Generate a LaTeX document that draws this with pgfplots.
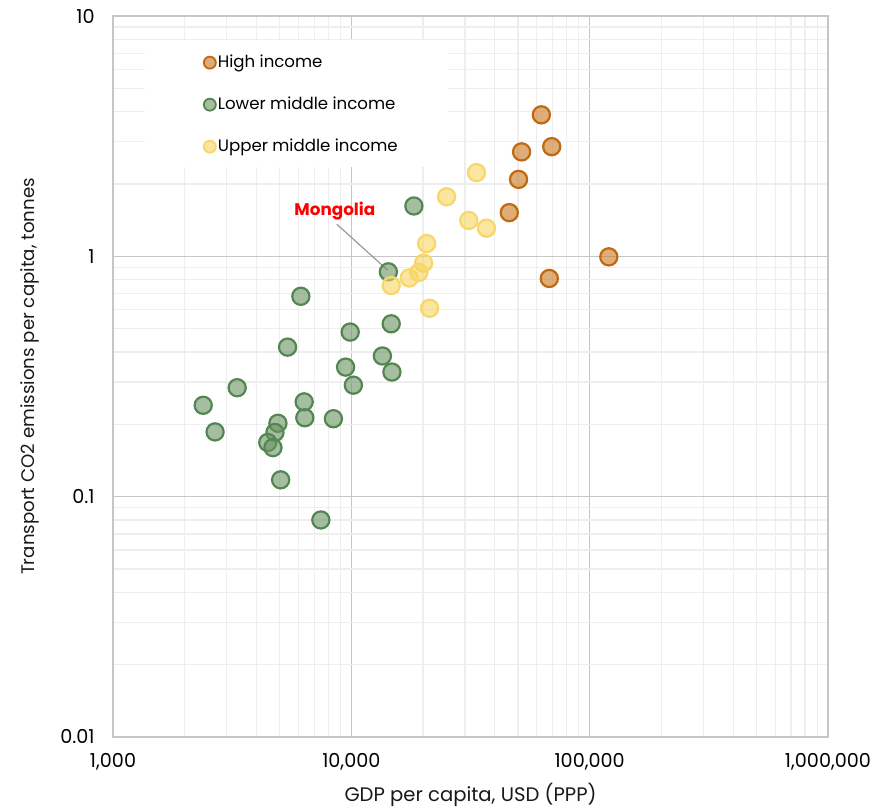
\documentclass[border=0pt]{standalone}
\usepackage{fontspec}
\setmainfont{Poppins}
\usepackage{pgfplots}
\pgfplotsset{compat=1.18}

\definecolor{hiFill}{RGB}{200,118,30}
\definecolor{hiDraw}{RGB}{192,105,16}
\definecolor{loFill}{RGB}{105,147,97}
\definecolor{loDraw}{RGB}{84,134,84}
\definecolor{upFill}{RGB}{248,213,97}
\definecolor{upDraw}{RGB}{247,215,105}

\begin{document}
\begin{tikzpicture}
\begin{axis}[
  name=ax,
  scale only axis,
  width=357.5pt, height=360.5pt,
  xmode=log, ymode=log,
  xmin=1000, xmax=1000000,
  ymin=0.01, ymax=10,
  xtick={1000,10000,100000,1000000},
  xticklabels={{1,000},{10,000},{100,000},{1,000,000}},
  ytick={0.01,0.1,1,10},
  yticklabels={0.01,0.1,1,10},
  minor xtick={2000,3000,4000,5000,6000,7000,8000,9000,
    20000,30000,40000,50000,60000,70000,80000,90000,
    200000,300000,400000,500000,600000,700000,800000,900000},
  minor ytick={0.02,0.03,0.04,0.05,0.06,0.07,0.08,0.09,
    0.2,0.3,0.4,0.5,0.6,0.7,0.8,0.9,
    2,3,4,5,6,7,8,9},
  grid=both,
  major grid style={draw=gray!45, line width=0.6pt},
  minor grid style={draw=gray!13, line width=0.6pt},
  axis line style={draw=gray!45, line width=0.6pt},
  tick style={draw=none},
  tick label style={font=\fontsize{9.6}{11}\selectfont, text=black},
  xticklabel style={anchor=center, yshift=-12.5pt},
  yticklabel style={anchor=east, inner sep=0pt, xshift=-9pt},
  every axis x label/.style={at={(rel axis cs:0.5,0)}, anchor=center, yshift=-29pt},
  every axis y label/.style={at={(rel axis cs:0,0.5)}, anchor=center, rotate=90, yshift=41.5pt},
  label style={text=black!90},
  xlabel style={font=\fontsize{9.8}{11}\selectfont},
  ylabel style={font=\fontsize{9.1}{11}\selectfont},
  xlabel={GDP per capita, USD (PPP)},
  ylabel={Transport CO2 emissions per capita, tonnes},
  legend cell align=left,
  legend image code/.code={\draw[#1, mark size=3pt, every mark/.append style={line width=0.9pt}] plot coordinates {(0pt,0pt)};},
  legend style={at={(rel axis cs:0.1265,0.949)}, anchor=north west,
    draw=none, fill=none, inner sep=0pt, row sep=11.5pt,
    font=\fontsize{8.3}{9}\selectfont,
    nodes={inner sep=1pt, text height=6pt, text depth=1.5pt}},
]

\fill[white] (rel axis cs:0.0448,0.7906) rectangle (rel axis cs:0.4685,0.9667);

\addplot[only marks, mark=*, mark size=4.3pt,
  mark options={draw=hiDraw, fill=hiFill, fill opacity=0.6, line width=1.1pt}]
  coordinates {
  (62700,3.88) (69300,2.86) (51800,2.72) (50300,2.09)
  (46000,1.52) (120300,0.995) (67700,0.809)
};
\addlegendentry{High income}

\addplot[only marks, mark=*, mark size=4.3pt,
  mark options={draw=loDraw, fill=loFill, fill opacity=0.6, line width=1.1pt}]
  coordinates {
  (18300,1.62) (14300,0.862) (6140,0.682) (9890,0.484) (14700,0.524)
  (5400,0.419) (13500,0.385) (9460,0.346) (14800,0.330) (3320,0.284)
  (10200,0.291) (2390,0.240) (6340,0.248) (2680,0.186) (4920,0.202)
  (6380,0.213) (8410,0.211) (4780,0.185) (4460,0.168) (4690,0.160)
  (5050,0.1175) (7450,0.080)
};
\addlegendentry{Lower middle income}

\addplot[only marks, mark=*, mark size=4.3pt,
  mark options={draw=upDraw, fill=upFill, fill opacity=0.6, line width=1.1pt}]
  coordinates {
  (33500,2.23) (25100,1.77) (31100,1.41) (36900,1.31) (20700,1.13)
  (20100,0.937) (19200,0.857) (17500,0.813) (14700,0.756) (21300,0.608)
};
\addlegendentry{Upper middle income}

\draw[gray!80, line width=0.6pt] (axis cs:8690,1.36) -- (axis cs:14200,0.876);
\node[text=red, font=\bfseries\fontsize{8.4}{9}\selectfont] at (axis cs:8530,1.54) {Mongolia};

\end{axis}
\pgfresetboundingbox
\path[use as bounding box] ([xshift=-56.5pt,yshift=-35.5pt]ax.south west) rectangle ([xshift=25pt,yshift=8pt]ax.north east);
\end{tikzpicture}
\end{document}
